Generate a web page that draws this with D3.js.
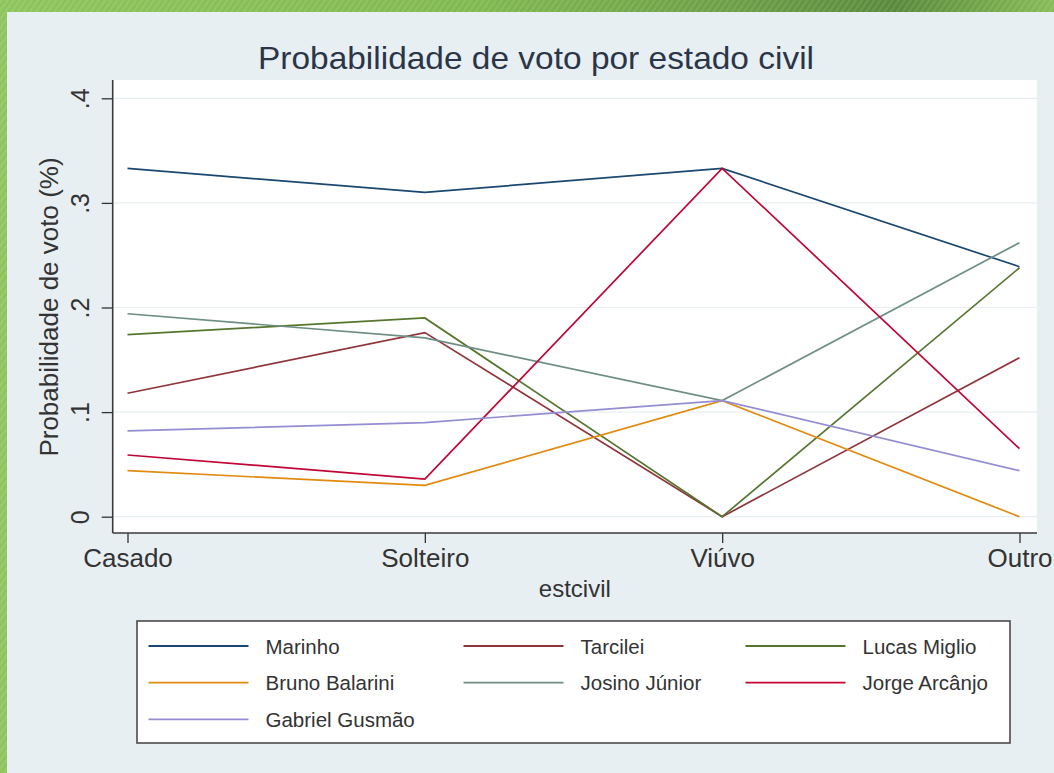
<!DOCTYPE html>
<html>
<head>
<meta charset="utf-8">
<script src="https://cdn.jsdelivr.net/npm/d3@7/dist/d3.min.js"></script>
<style>
  html, body { margin: 0; padding: 0; background: #e8eff2; }
  svg { display: block; font-family: "Liberation Sans", Arial, sans-serif; }
</style>
</head>
<body>
<div id="chart"></div>
<script>
// ---------------- data ----------------
const categories = ["Casado", "Solteiro", "Viúvo", "Outro"];
const seriesNames = ["Marinho", "Tarcilei", "Lucas Miglio", "Bruno Balarini", "Josino Júnior", "Jorge Arcânjo", "Gabriel Gusmão"];
const marinho       = [0.333, 0.310, 0.333, 0.239];
const tarcilei      = [0.118, 0.176, 0.000, 0.152];
const lucasMiglio   = [0.174, 0.190, 0.000, 0.238];
const brunoBalarini = [0.044, 0.030, 0.111, 0.000];
const josinoJunior  = [0.194, 0.171, 0.111, 0.262];
const jorgeArcanjo  = [0.059, 0.036, 0.333, 0.065];
const gabrielGusmao = [0.082, 0.090, 0.111, 0.044];
const yTickValues = [0, 0.1, 0.2, 0.3, 0.4];
const yTickLabels = ["0", ".1", ".2", ".3", ".4"];
const titleText = "Probabilidade de voto por estado civil";
const yTitleText = "Probabilidade de voto (%)";
const xTitleText = "estcivil";

const seriesValues = [marinho, tarcilei, lucasMiglio, brunoBalarini, josinoJunior, jorgeArcanjo, gabrielGusmao];
const colors = ["#1a476f", "#90353b", "#55752f", "#e08a10", "#6e8e84", "#c10534", "#938dd2"];

// ---------------- layout ----------------
const W = 1054, H = 773;
const plot = { left: 112.7, right: 1037, top: 80, bottom: 533 };

const svg = d3.select("#chart").append("svg").attr("width", W).attr("height", H);

// background
svg.append("rect").attr("width", W).attr("height", H).attr("fill", "#e8eff2");

// decorative green border (top and left)
const defs = svg.append("defs");
const grad = defs.append("linearGradient").attr("id", "gband").attr("x1", "0").attr("x2", "1").attr("y1", "0").attr("y2", "0");
[["0", "#8dc45a"], ["0.45", "#7fb84e"], ["0.7", "#6a9d44"], ["0.85", "#58883a"], ["0.93", "#6fa446"], ["1", "#86bb55"]]
  .forEach(([o, c]) => grad.append("stop").attr("offset", o).attr("stop-color", c));
const pat = defs.append("pattern").attr("id", "stripes").attr("patternUnits", "userSpaceOnUse")
  .attr("width", 5).attr("height", 5).attr("patternTransform", "rotate(35)");
pat.append("rect").attr("width", 2.5).attr("height", 5).attr("fill", "#ffffff").attr("opacity", 0.1);
svg.append("rect").attr("x", 0).attr("y", 0).attr("width", W).attr("height", 12).attr("fill", "url(#gband)");
svg.append("rect").attr("x", 0).attr("y", 0).attr("width", W).attr("height", 12).attr("fill", "url(#stripes)");
svg.append("rect").attr("x", 0).attr("y", 0).attr("width", 7).attr("height", H).attr("fill", "#8dc45a");
svg.append("rect").attr("x", 0).attr("y", 0).attr("width", 7).attr("height", H).attr("fill", "url(#stripes)");

// plot region
svg.append("rect").attr("x", plot.left).attr("y", plot.top)
  .attr("width", plot.right - plot.left).attr("height", plot.bottom - plot.top).attr("fill", "#ffffff");

// scales
const x = d3.scalePoint().domain(categories).range([127.5, 1019.5]);
const y = d3.scaleLinear().domain([0, 0.4]).range([516.7, 98.3]);

// grid lines
svg.append("g").selectAll("line").data(yTickValues).join("line")
  .attr("x1", plot.left).attr("x2", plot.right)
  .attr("y1", d => y(d)).attr("y2", d => y(d))
  .attr("stroke", "#e8eff2").attr("stroke-width", 1.2);

// y axis
const yAxis = svg.append("g").attr("transform", `translate(${plot.left},0)`)
  .call(d3.axisLeft(y).tickValues(yTickValues).tickSize(11).tickFormat((d, i) => yTickLabels[i]));
yAxis.select(".domain").remove();
yAxis.selectAll(".tick line").attr("stroke", "#333").attr("stroke-width", 1.3);
yAxis.selectAll(".tick text")
  .attr("x", null).attr("dy", null)
  .attr("transform", "translate(-24,0) rotate(-90)")
  .attr("text-anchor", "middle")
  .attr("font-size", 25).attr("fill", "#333")
  .attr("font-family", "Liberation Sans, Arial, sans-serif");

// x axis
const xAxis = svg.append("g").attr("transform", `translate(0,${plot.bottom})`)
  .call(d3.axisBottom(x).tickSize(10));
xAxis.select(".domain").remove();
xAxis.selectAll(".tick line").attr("stroke", "#333").attr("stroke-width", 1.3);
xAxis.selectAll(".tick text")
  .attr("y", 34).attr("dy", null)
  .attr("font-size", 26).attr("fill", "#333")
  .attr("font-family", "Liberation Sans, Arial, sans-serif");

// axis lines
svg.append("line").attr("x1", plot.left).attr("x2", plot.left).attr("y1", plot.top).attr("y2", plot.bottom)
  .attr("stroke", "#3a3a3a").attr("stroke-width", 1.6);
svg.append("line").attr("x1", plot.left).attr("x2", plot.right).attr("y1", plot.bottom).attr("y2", plot.bottom)
  .attr("stroke", "#3a3a3a").attr("stroke-width", 1.6);

// series lines
const line = d3.line().x((d, i) => x(categories[i])).y(d => y(d));
svg.append("g").selectAll("path").data(seriesValues).join("path")
  .attr("d", d => line(d))
  .attr("fill", "none")
  .attr("stroke", (d, i) => colors[i])
  .attr("stroke-width", 1.7)
  .attr("stroke-linejoin", "miter");

// titles
svg.append("text").attr("x", 536).attr("y", 69).attr("text-anchor", "middle")
  .attr("font-size", 32).attr("fill", "#2a3648").attr("textLength", 556).attr("lengthAdjust", "spacingAndGlyphs")
  .text(titleText);
svg.append("text").attr("transform", "translate(58,307) rotate(-90)").attr("text-anchor", "middle")
  .attr("font-size", 26).attr("fill", "#333").text(yTitleText);
svg.append("text").attr("x", (plot.left + plot.right) / 2).attr("y", 597).attr("text-anchor", "middle")
  .attr("font-size", 24).attr("fill", "#333").text(xTitleText);

// legend
const legend = { left: 137, right: 1010, top: 621, bottom: 743 };
svg.append("rect").attr("x", legend.left).attr("y", legend.top)
  .attr("width", legend.right - legend.left).attr("height", legend.bottom - legend.top)
  .attr("fill", "#ffffff").attr("stroke", "#4a4a4a").attr("stroke-width", 1.6);
const colX = [148.5, 463.5, 745.5];
const rowY = [646, 682.7, 719.3];
const items = svg.append("g").selectAll("g").data(seriesNames).join("g")
  .attr("transform", (d, i) => `translate(${colX[i % 3]},${rowY[Math.floor(i / 3)]})`);
items.append("line").attr("x1", 0).attr("x2", 100).attr("y1", 0).attr("y2", 0)
  .attr("stroke", (d, i) => colors[i]).attr("stroke-width", 1.8);
items.append("text").attr("x", 117).attr("y", 7.5).attr("font-size", 20.5).attr("fill", "#333").text(d => d);
</script>
</body>
</html>
